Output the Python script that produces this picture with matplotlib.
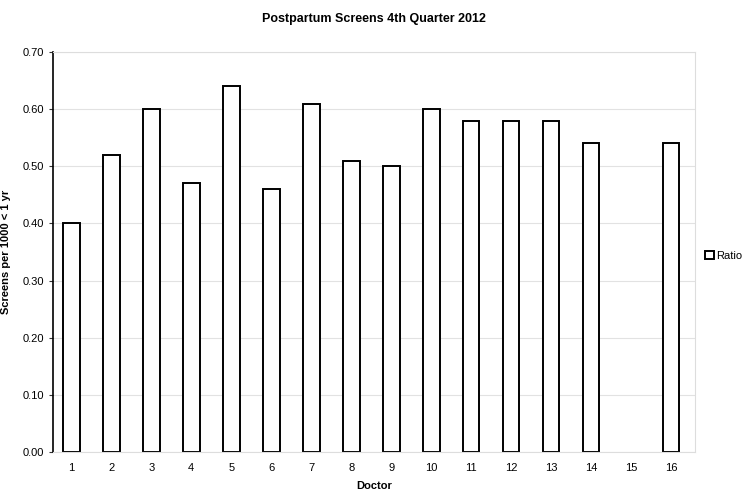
import matplotlib
matplotlib.use("Agg")
import matplotlib.pyplot as plt

plt.rcParams['font.family'] = ['Liberation Sans', 'DejaVu Sans']

doctors = [str(i) for i in range(1, 17)]
ratio = [0.40, 0.52, 0.60, 0.47, 0.64, 0.46, 0.61, 0.51,
         0.50, 0.60, 0.58, 0.58, 0.58, 0.54, 0.0, 0.54]

fig = plt.figure(figsize=(7.43, 5.01), dpi=100)
ax = fig.add_axes([0.0713, 0.098, 0.864, 0.798])

x = list(range(1, len(doctors) + 1))
# a zero bar shows no outline in the original
edges = ['black' if v > 0 else 'none' for v in ratio]
ax.bar(x, ratio, width=0.42, color='white', edgecolor=edges,
       linewidth=1.4, label='Ratio')

ax.set_xlim(0.54, 16.6)
ax.set_ylim(0, 0.70)
ax.set_yticks([i / 10 for i in range(8)])
ax.set_yticklabels([f"{i / 10:.2f}" for i in range(8)])
ax.set_xticks(x)
ax.set_xticklabels(doctors)
ax.tick_params(axis='both', labelsize=8, length=3, color='#333333')
ax.tick_params(axis='x', length=0, pad=8)
ax.yaxis.grid(True, color='#e2e2e2', linewidth=0.8)
ax.set_axisbelow(True)

for side in ['top', 'right', 'bottom']:
    ax.spines[side].set_color('#dddddd')
ax.spines['left'].set_color('black')
ax.spines['left'].set_linewidth(1.2)

ax.set_title('Postpartum Screens 4th Quarter 2012', fontsize=9,
             fontweight='bold', pad=22)
ax.set_xlabel('Doctor', fontsize=8, fontweight='bold', labelpad=6)
ax.set_ylabel('Screens per 1000 < 1 yr', fontsize=8, fontweight='bold',
              labelpad=8)

leg = ax.legend(loc='center left', bbox_to_anchor=(1.0, 0.49), frameon=False,
                fontsize=8, handlelength=0.8, handleheight=0.8,
                handletextpad=0.2)
for h in leg.legend_handles:
    h.set_edgecolor('black')

fig.savefig('out.png', dpi=100)
